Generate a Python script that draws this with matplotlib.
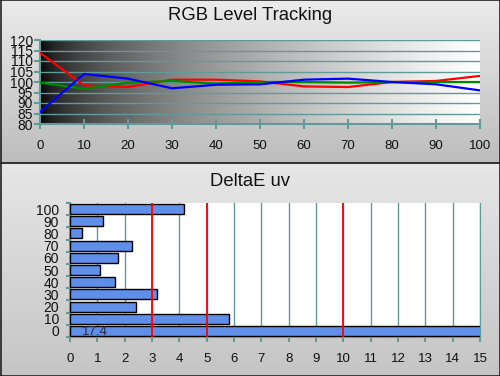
import numpy as np
import matplotlib
matplotlib.use("Agg")
import matplotlib.pyplot as plt
from matplotlib.ticker import FixedLocator

plt.rcParams['font.family'] = ['Liberation Sans', 'DejaVu Sans']

# ---- data ----
levels = [0, 10, 20, 30, 40, 50, 60, 70, 80, 90, 100]
red = [113.9, 98.4, 97.6, 101.1, 101.1, 100.3, 97.9, 97.6, 100.0, 100.5, 102.9]
green = [99.7, 96.8, 99.7, 100.5, 99.2, 100.0, 100.0, 99.7, 100.0, 100.0, 100.0]
blue = [85.7, 103.8, 101.6, 97.0, 98.7, 98.9, 101.1, 101.6, 100.0, 98.9, 96.0]

de_levels = ['0', '10', '20', '30', '40', '50', '60', '70', '80', '90', '100']
de_values = [17.4, 5.83, 2.43, 3.2, 1.66, 1.11, 1.77, 2.28, 0.43, 1.22, 4.18]
ref_lines = [3, 5, 10]

top_yticks = [80, 85, 90, 95, 100, 105, 110, 115, 120]
top_xticks = [0, 10, 20, 30, 40, 50, 60, 70, 80, 90, 100]
bot_xticks = list(range(0, 16))

teal = '#5f9c97'

fig = plt.figure(figsize=(5.0, 3.76), dpi=100)

# ---- background panels ----
bg = fig.add_axes([0, 0, 1, 1], zorder=-10)
bg.set_xlim(0, 1)
bg.set_ylim(0, 1)
bg.axis('off')
sep = 1 - 163 / 376
g_top = np.linspace(0.74, 0.92, 64).reshape(-1, 1)
bg.imshow(g_top, cmap='gray', vmin=0, vmax=1, aspect='auto',
          extent=[0, 1, sep, 1], origin='lower', interpolation='bicubic')
g_bot = np.linspace(0.77, 0.90, 64).reshape(-1, 1)
bg.imshow(g_bot, cmap='gray', vmin=0, vmax=1, aspect='auto',
          extent=[0, 1, 0, sep], origin='lower', interpolation='bicubic')
bg.axhline(sep, color='#222222', lw=1.3)
for s in [0.001, 0.999]:
    bg.axvline(s, color='#222222', lw=1.2)
    bg.axhline(s, color='#222222', lw=1.2)

fig.text(0.5, 1 - 15 / 376, 'RGB Level Tracking', ha='center', va='center',
         fontsize=13.3, color='#111111')
fig.text(0.5, 1 - 181 / 376, 'DeltaE uv', ha='center', va='center',
         fontsize=13.3, color='#111111')

# ---- top chart ----
ax1 = fig.add_axes([40 / 500, 1 - 124 / 376, 440 / 500, 84 / 376])
grad = np.power(np.linspace(0, 1, 256), 0.55).reshape(1, -1)
ax1.imshow(grad, cmap='gray', vmin=0, vmax=1, aspect='auto',
           extent=[0, 100, 80, 120], zorder=0)
ax1.plot(levels, red, color='#ff0000', lw=1.6, zorder=3)
ax1.plot(levels, green, color='#008a00', lw=1.6, zorder=4)
ax1.plot(levels, blue, color='#0000ff', lw=1.6, zorder=5)
ax1.set_xlim(0, 100)
ax1.set_ylim(80, 120)
ax1.set_xticks(top_xticks)
ax1.set_yticks(top_yticks)
ax1.grid(axis='y', color=teal, lw=1.0, zorder=1)
ax1.set_axisbelow(False)
for s in ['top', 'right']:
    ax1.spines[s].set_visible(False)
for s in ['left', 'bottom']:
    ax1.spines[s].set_color(teal)
    ax1.spines[s].set_linewidth(1.5)
ax1.tick_params(axis='x', direction='inout', length=7, width=1.5, color=teal,
                labelsize=9.5, pad=8, labelcolor='#111111')
ax1.tick_params(axis='y', direction='out', length=4, width=1.5, color=teal,
                labelsize=10, pad=1, labelcolor='#111111')
ax1.set_facecolor('none')

# ---- bottom chart ----
ax2 = fig.add_axes([70 / 500, 1 - 337 / 376, 410 / 500, 134 / 376])
ax2.set_facecolor('white')
ypos = np.arange(len(de_levels))
ax2.barh(ypos, de_values, height=0.82, color='#5f8fe8', edgecolor='black',
         lw=1.0, zorder=3)
for v in ref_lines:
    ax2.axvline(v, color='#ff0000', lw=1.3, zorder=4)
ax2.set_xlim(0, 15)
ax2.set_ylim(-0.5, len(de_levels) - 0.5)
ax2.set_xticks(bot_xticks)
ax2.set_yticks(ypos)
ax2.set_yticklabels(de_levels)
ax2.yaxis.set_minor_locator(FixedLocator(np.arange(-0.5, len(de_levels), 1.0)))
ax2.grid(axis='x', color=teal, lw=1.0, zorder=1)
ax2.spines['top'].set_visible(False)
ax2.spines['right'].set_color(teal)
for s in ['left', 'bottom']:
    ax2.spines[s].set_color(teal)
    ax2.spines[s].set_linewidth(1.5)
ax2.tick_params(axis='x', direction='inout', length=7, width=1.5, color=teal,
                labelsize=9.5, pad=8, labelcolor='#111111')
ax2.tick_params(axis='y', which='major', length=0, labelsize=10, pad=8,
                labelcolor='#111111')
ax2.tick_params(axis='y', which='minor', direction='out', length=3, width=1.5,
                color=teal)
ax2.text(0.42, -0.1, '%.1f' % de_values[0], ha='left', va='center', fontsize=9.5,
         color='#2a2a44', zorder=5)

fig.savefig('out.png', dpi=100)
